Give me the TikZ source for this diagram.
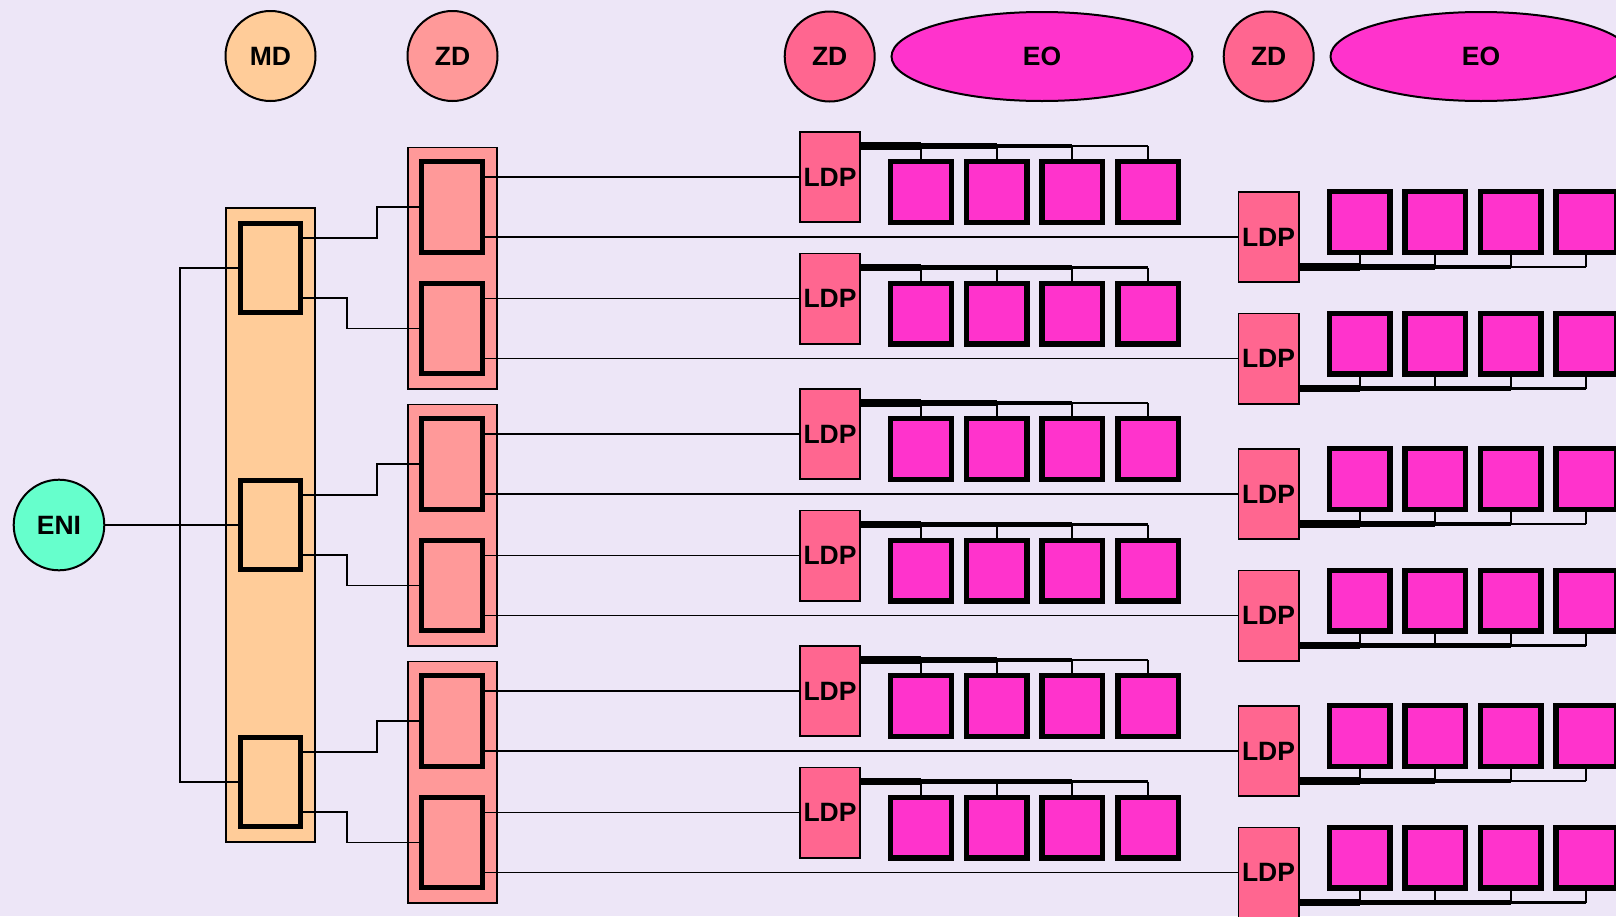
\documentclass[tikz,border=0pt]{standalone}
\usepackage{fontspec}
\setmainfont{Liberation Sans}
\usetikzlibrary{shapes.geometric}
\definecolor{bg}{HTML}{EDE6F7}
\definecolor{mdc}{HTML}{FFCC99}
\definecolor{zdc}{HTML}{FF9999}
\definecolor{ldpc}{HTML}{FF6690}
\definecolor{eoc}{HTML}{FF33CC}
\definecolor{enic}{HTML}{66FFCC}
\begin{document}
\begin{tikzpicture}[x=1pt,y=-1pt,
  wire/.style={line width=1.9pt, draw=black},
  drop/.style={line width=2pt, draw=black},
  lbl/.style={font=\fontsize{26.5}{30}\selectfont\bfseries, text=black},
  disc/.style={circle, draw, line width=2pt, minimum size=90pt, inner sep=0pt, lbl},
  oval/.style={ellipse, draw, line width=2pt, fill=eoc, minimum width=301pt, minimum height=89pt, inner sep=0pt, lbl},
  column/.style={draw, line width=1.8pt, minimum width=89.2pt, inner sep=0pt},
  unitbox/.style={draw, line width=5pt, rectangle, inner sep=0pt},
  ldpbox/.style={draw, line width=1.8pt, fill=ldpc, minimum width=60.2pt, minimum height=90.2pt, inner sep=0pt, lbl},
  eobox/.style={draw, line width=5.4pt, fill=eoc, minimum size=60.6pt, inner sep=0pt},
]
\clip (0,0) rectangle (1616,916);
\fill[bg] (0,0) rectangle (1616,916);

% header row
\node[disc, fill=mdc] (tMD) at (270.5,56) {MD};
\node[disc, fill=zdc] (tZDa) at (452.5,56) {ZD};
\node[disc, fill=ldpc] (tZDb) at (829.7,56.5) {ZD};
\node[oval] (tEOa) at (1042,56.5) {EO};
\node[disc, fill=ldpc] (tZDc) at (1268.7,56.5) {ZD};
\node[oval] (tEOb) at (1481,56.5) {EO};

% entry node
\node[disc, fill=enic, minimum size=90.6pt] (eni) at (59,525) {ENI};
\coordinate (tap) at (180,525);

% MD column with three units
\node[column, fill=mdc, minimum height=634.2pt] (mdcol) at (270.5,525) {};
\foreach \g in {0,1,2} {
  \pgfmathsetmacro\C{268+257*\g}
  \node[unitbox, fill=mdc, minimum width=60pt, minimum height=89pt] (md\g) at (270.5,\C) {};
  \node[column, fill=zdc, minimum height=241.2pt] (zdcol\g) at (452.5,\C) {};
}

% ZD units
\foreach \r/\z in {1/207,2/328.5,3/464,4/585.5,5/721,6/842.5} {
  \node[unitbox, fill=zdc, minimum width=61pt, minimum height=90.3pt] (zd\r) at (452,\z) {};
}

% LDP rows with their EO units
\foreach \r/\z in {1/207,2/328.5,3/464,4/585.5,5/721,6/842.5} {
  \pgfmathsetmacro\yl{\z-30}
  \pgfmathsetmacro\yr{\z+30}
  \node[ldpbox] (ldpL\r) at (830,\yl) {LDP};
  \node[ldpbox] (ldpR\r) at (1268.5,\yr) {LDP};
  \coordinate (busL\r) at ([yshift=31pt]ldpL\r.east);
  \coordinate (busR\r) at ([yshift=-30pt]ldpR\r.east);
  \foreach \k/\w in {1/7.2,2/5.8,3/4.3,4/2.2} {
    \pgfmathsetmacro\xl{921+75.7*(\k-1)}
    \pgfmathsetmacro\xr{1359.5+75.6*(\k-1)}
    \node[eobox] (eoL\r-\k) at (\xl,\yl+15) {};
    \node[eobox] (eoR\r-\k) at (\xr,\yr-15) {};
    \draw[line width=\w pt] (busL\r) -- (busL\r -| eoL\r-\k.north);
    \draw[drop] (busL\r -| eoL\r-\k.north) -- (eoL\r-\k.north);
    \draw[line width=\w pt] (busR\r) -- (busR\r -| eoR\r-\k.south);
    \draw[drop] (busR\r -| eoR\r-\k.south) -- (eoR\r-\k.south);
  }
  % ZD unit outputs
  \draw[wire] ([yshift=30pt]zd\r.east) -- (ldpL\r.west);
  \draw[wire] ([yshift=-30pt]zd\r.east) -- (ldpR\r.west);
}

% ENI feeds the three MD units
\draw[wire] (eni.east) -- (md1.west);
\draw[wire] (eni.east) -- (tap) |- (md0.west);
\draw[wire] (eni.east) -- (tap) |- (md2.west);

% MD units feed the ZD units
\draw[wire] ([yshift=30pt]md0.east) -- ++(74,0) |- (zd1.west);
\draw[wire] ([yshift=-30pt]md0.east) -- ++(44,0) |- (zd2.west);
\draw[wire] ([yshift=30pt]md1.east) -- ++(74,0) |- (zd3.west);
\draw[wire] ([yshift=-30pt]md1.east) -- ++(44,0) |- (zd4.west);
\draw[wire] ([yshift=30pt]md2.east) -- ++(74,0) |- (zd5.west);
\draw[wire] ([yshift=-30pt]md2.east) -- ++(44,0) |- (zd6.west);
\end{tikzpicture}
\end{document}
